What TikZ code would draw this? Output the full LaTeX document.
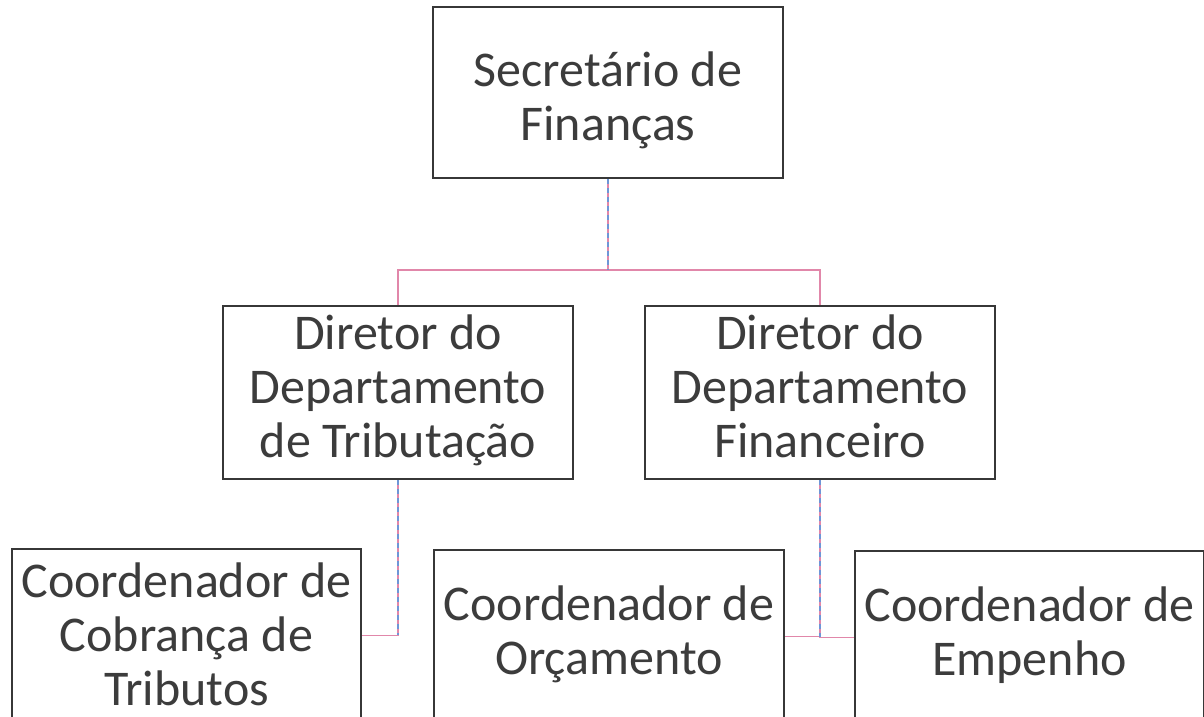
\documentclass[tikz,border=0pt]{standalone}
\usepackage{fontspec}
\setmainfont{Carlito}
\definecolor{boxline}{RGB}{55,55,55}
\definecolor{boxtext}{RGB}{60,60,60}
\definecolor{connpink}{RGB}{225,135,170}
\definecolor{connblue}{RGB}{110,150,215}
\tikzset{
  orgbox/.style={draw=boxline, line width=2.5pt, fill=white, inner sep=0pt,
    align=center, text=boxtext, font=\fontsize{50}{54}\selectfont,
    minimum width=350pt, minimum height=173pt},
  conn/.style={draw=connpink, line width=1.6pt},
  connv/.style={draw=connblue, line width=1.2pt, dash pattern=on 5pt off 4pt}
}
\begin{document}
\begin{tikzpicture}[x=1pt,y=1pt]
\useasboundingbox (0,0) rectangle (1204,717);
\clip (0,0) rectangle (1204,717);
\coordinate (topj) at (608,447);
\node[orgbox, minimum height=171pt] (top) at (608,624.5) {\rule{0pt}{58pt}Secretário de\\Finanças\strut};
\node[orgbox] (ml) at (398,324.5) {\strut Diretor do\\Departamento\\de Tributação\strut};
\node[orgbox] (mr) at (820,324.5) {\strut Diretor do\\Departamento\\Financeiro\strut};
\node[orgbox, minimum width=349pt] (bl) at (186.5,81.5) {\rule{0pt}{48pt}Coordenador de\\Cobrança de\\Tributos\strut};
\node[orgbox] (bm) at (609,80.5) {\strut Coordenador de\\Orçamento\strut};
\node[orgbox, minimum width=349pt] (br) at (1029.5,79.5) {\strut Coordenador de\\Empenho\strut};
\draw[conn] (top.south) -- (topj) -| (ml.north);
\draw[conn] (topj) -| (mr.north);
\draw[conn] (ml.south) |- (bl.east);
\draw[conn] (mr.south) |- (bm.east);
\draw[conn] (mr.south) |- (br.west);
\draw[connv] (top.south) -- (topj);
\draw[connv] (ml.south) -- (ml.south |- bl.east);
\draw[connv] (mr.south) -- (mr.south |- br.west);
\end{tikzpicture}
\end{document}
